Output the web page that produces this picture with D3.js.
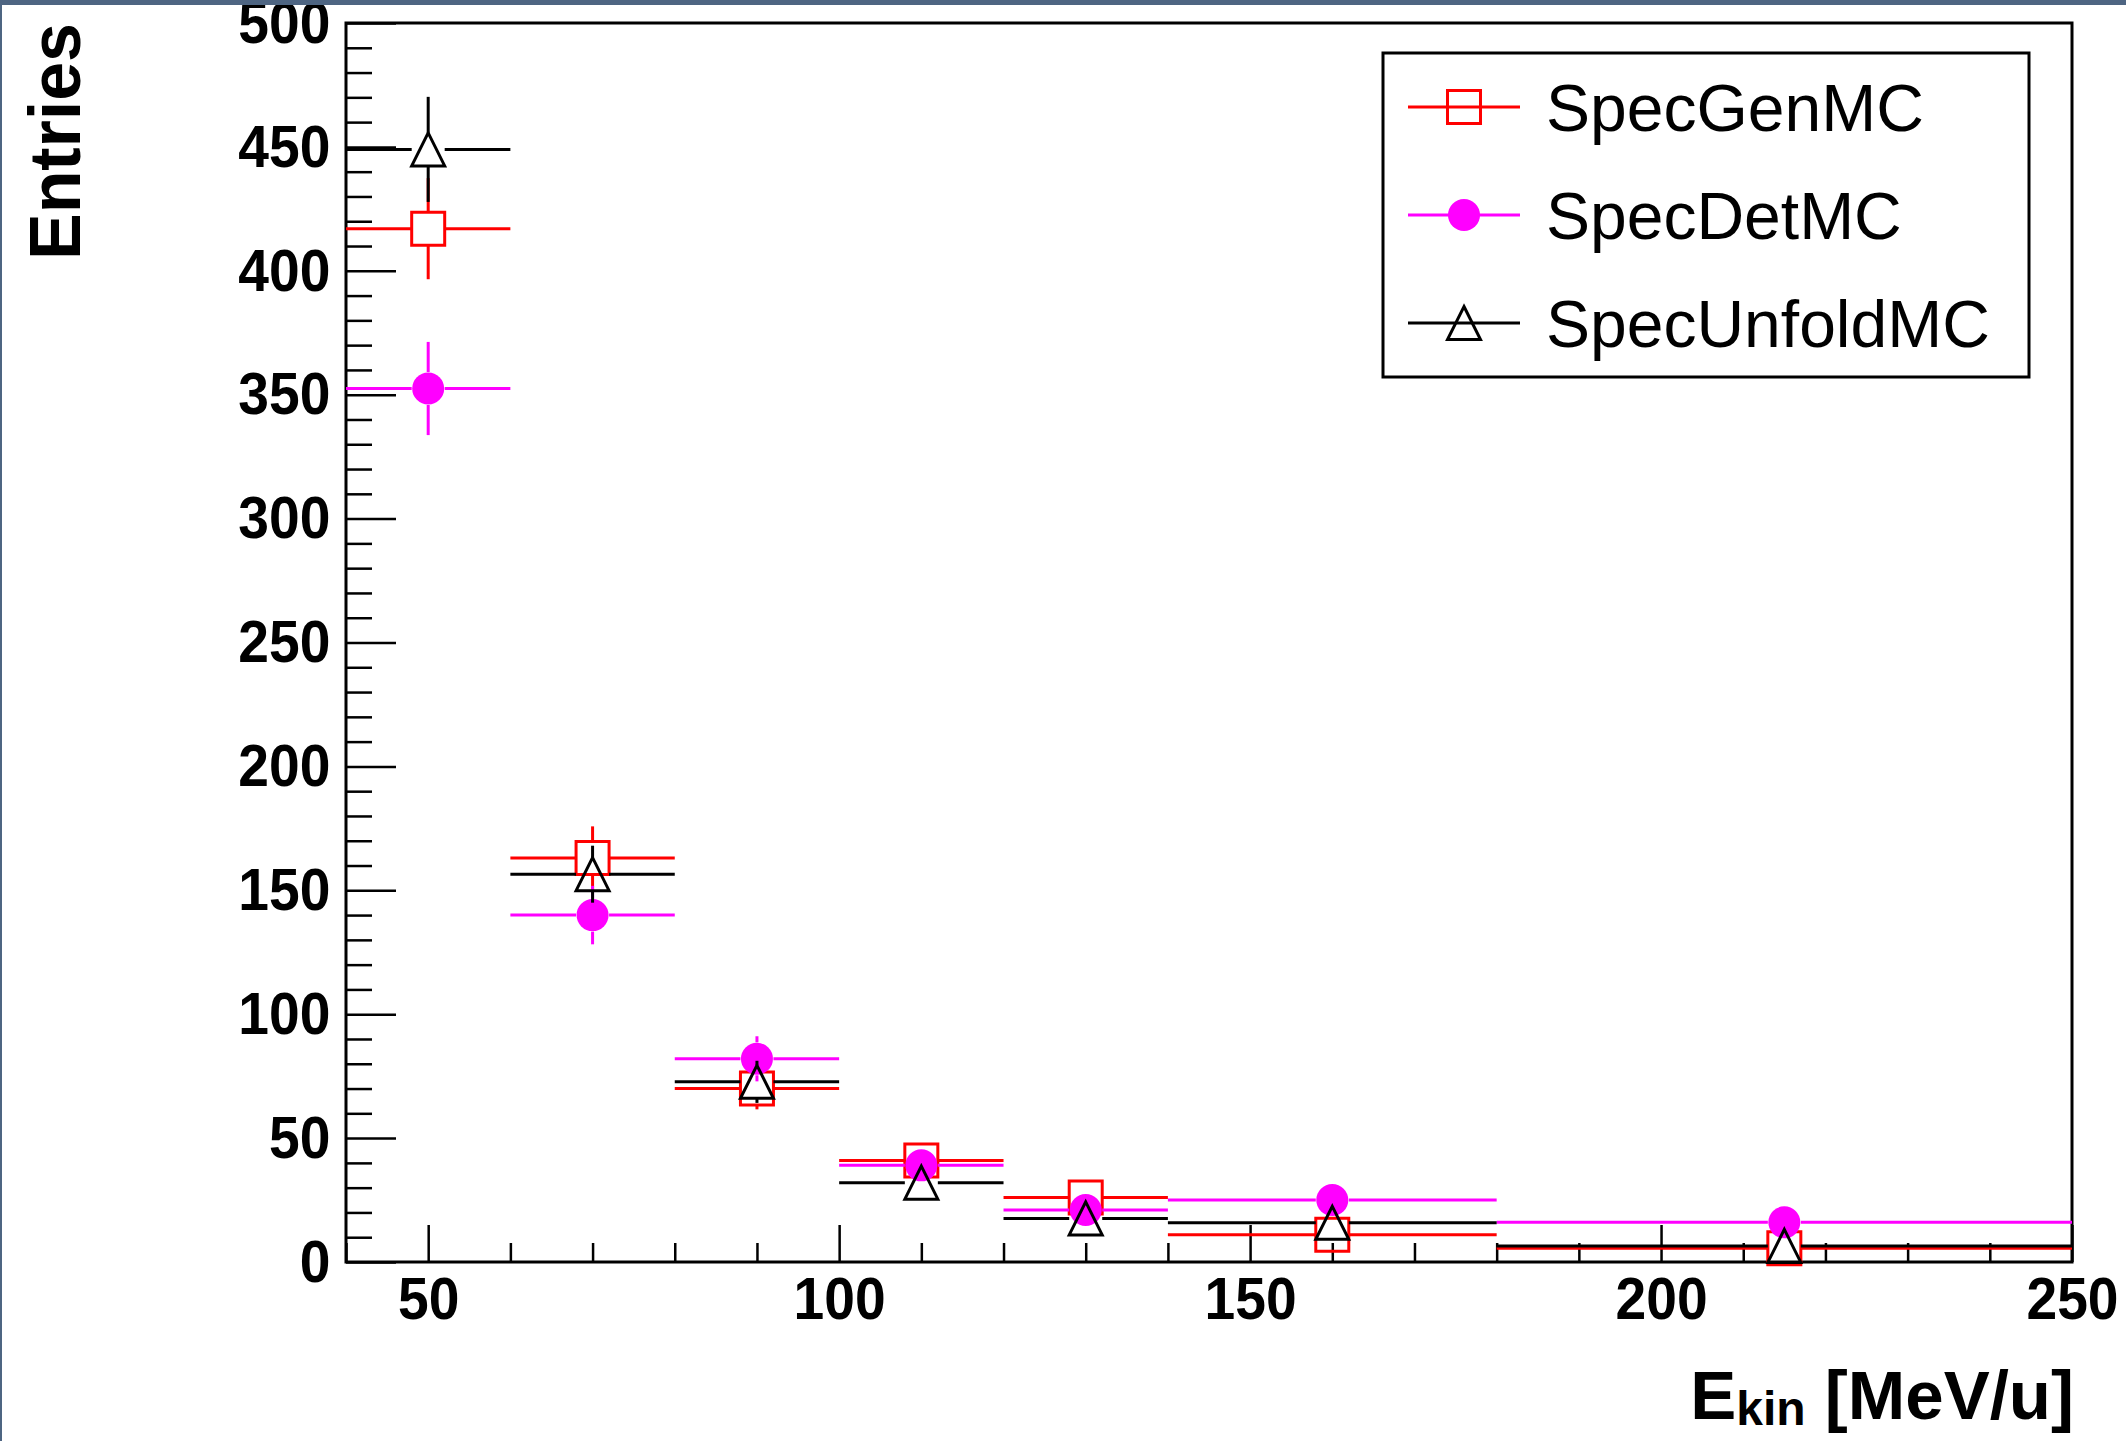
<!DOCTYPE html>
<meta charset="utf-8">
<style>
	body {
		margin: 0;
		background: #fff;
	}
	svg {
		display: block;
		font-family: "Liberation Sans", Arial, Helvetica, sans-serif;
	}
</style>
<body>
<script src="https://d3js.org/d3.v7.min.js"></script>
<script>
	// bins (MeV/u)
	var binLow = [40, 60, 80, 100, 120, 140, 180];
	var binHigh = [60, 80, 100, 120, 140, 180, 250];
	var binCenter = [50, 70, 90, 110, 130, 160, 215];

	// series values
	var genMC = [417, 163, 70, 41, 26, 11, 5.5];
	var genErr = [20.4, 12.8, 8.4, 6.4, 5.1, 3.3, 2.3];
	var detMC = [352.5, 140, 82, 39, 21, 25, 16];
	var detErr = [18.8, 11.8, 9.1, 6.2, 4.6, 5.0, 4.0];
	var unfoldMC = [449, 156.5, 72.7, 32, 17.6, 15.8, 6.5];
	var unfoldErr = [21.2, 11.5, 8.5, 5.7, 4.2, 4.0, 2.5];

	var seriesNames = ["SpecGenMC", "SpecDetMC", "SpecUnfoldMC"];

	var xTicks = [50, 100, 150, 200, 250];
	var yTicks = [0, 50, 100, 150, 200, 250, 300, 350, 400, 450, 500];

	var width = 2126,
		height = 1441;
	var frame = {left: 346, right: 2072, top: 23, bottom: 1262};

	var svg = d3.select("body").append("svg")
		.attr("width", width)
		.attr("height", height);

	var x = d3.scaleLinear().domain([40, 250]).range([frame.left, frame.right]);
	var y = d3.scaleLinear().domain([0, 500]).range([frame.bottom, frame.top]);

	var xMinor = d3.range(40, 251, 10).filter(function(d) { return d % 50 !== 0; });
	var yMinor = d3.range(0, 501, 10).filter(function(d) { return d % 50 !== 0; });

	// axes: ticks point inwards
	function styleAxis(g) {
		g.select(".domain").remove();
		g.selectAll(".tick line").attr("stroke", "#000").attr("stroke-width", 2.5);
		g.selectAll(".tick text")
			.attr("fill", "#000")
			.attr("transform", "scale(0.92,1)")
			.style("font-family", "'Liberation Sans', Arial, Helvetica, sans-serif")
			.style("font-weight", "bold")
			.style("font-size", "60px");
	}

	svg.append("g")
		.attr("transform", "translate(" + frame.left + ",0)")
		.call(d3.axisLeft(y).tickValues(yMinor).tickSize(-26).tickFormat(""))
		.call(styleAxis);
	svg.append("g")
		.attr("transform", "translate(" + frame.left + ",0)")
		.call(d3.axisLeft(y).tickValues(yTicks).tickSize(-50).tickPadding(17))
		.call(styleAxis);

	svg.append("g")
		.attr("transform", "translate(0," + frame.bottom + ")")
		.call(d3.axisBottom(x).tickValues(xMinor).tickSize(-19).tickFormat(""))
		.call(styleAxis);
	svg.append("g")
		.attr("transform", "translate(0," + frame.bottom + ")")
		.call(d3.axisBottom(x).tickValues(xTicks).tickSize(-37).tickPadding(14))
		.call(styleAxis);

	// frame
	svg.append("rect")
		.attr("x", frame.left)
		.attr("y", frame.top)
		.attr("width", frame.right - frame.left)
		.attr("height", frame.bottom - frame.top)
		.attr("fill", "none")
		.attr("stroke", "#000")
		.attr("stroke-width", 3);

	var half = 16.5;

	function markerPath(shape, cx, cy) {
		if (shape === "square") {
			return "M" + (cx - half) + "," + (cy - half) + "h" + (2 * half) + "v" + (2 * half) + "h" + (-2 * half) + "Z";
		}
		if (shape === "triangle") {
			return "M" + cx + "," + (cy - half) + "L" + (cx + half) + "," + (cy + half) + "L" + (cx - half) + "," + (cy + half) + "Z";
		}
		return null;
	}

	function drawMarker(g, shape, color, cx, cy) {
		if (shape === "circle") {
			g.append("circle")
				.attr("cx", cx).attr("cy", cy).attr("r", 16)
				.attr("fill", color);
		} else {
			g.append("path")
				.attr("d", markerPath(shape, cx, cy))
				.attr("fill", "none")
				.attr("stroke", color)
				.attr("stroke-width", 3);
		}
	}

	function seg(g, x1, y1, x2, y2, color) {
		g.append("line")
			.attr("x1", x1).attr("y1", y1)
			.attr("x2", x2).attr("y2", y2)
			.attr("stroke", color)
			.attr("stroke-width", 3);
	}

	function drawSeries(vals, errs, color, shape) {
		var g = svg.append("g");
		vals.forEach(function(v, i) {
			var cx = x(binCenter[i]),
				cy = y(v),
				top = y(v + errs[i]),
				bot = y(v - errs[i]);
			// horizontal bar with a gap at the marker
			seg(g, x(binLow[i]), cy, cx - half, cy, color);
			seg(g, cx + half, cy, x(binHigh[i]), cy, color);
			if (cy - top > half) seg(g, cx, cy - half, cx, top, color);
			if (bot - cy > half) seg(g, cx, cy + half, cx, bot, color);
			drawMarker(g, shape, color, cx, cy);
		});
	}

	drawSeries(genMC, genErr, "#ff0000", "square");
	drawSeries(detMC, detErr, "#ff00ff", "circle");
	drawSeries(unfoldMC, unfoldErr, "#000000", "triangle");

	// legend
	var legend = svg.append("g");
	legend.append("rect")
		.attr("x", 1383).attr("y", 53)
		.attr("width", 646).attr("height", 324)
		.attr("fill", "#fff")
		.attr("stroke", "#000")
		.attr("stroke-width", 3);

	var legendColors = ["#ff0000", "#ff00ff", "#000000"];
	var legendShapes = ["square", "circle", "triangle"];
	seriesNames.forEach(function(name, i) {
		var ly = 107 + i * 108;
		seg(legend, 1408, ly, 1520, ly, legendColors[i]);
		drawMarker(legend, legendShapes[i], legendColors[i], 1464, ly);
		legend.append("text")
			.attr("x", 1546)
			.attr("y", ly)
			.attr("dy", "0.36em")
			.style("font-size", "66px")
			.text(name);
	});

	// axis titles
	svg.append("text")
		.attr("transform", "translate(80,23) rotate(-90)")
		.attr("text-anchor", "end")
		.attr("textLength", 237)
		.attr("lengthAdjust", "spacingAndGlyphs")
		.style("font-weight", "bold")
		.style("font-size", "73px")
		.text("Entries");

	var xt = svg.append("text")
		.attr("x", 2074)
		.attr("y", 1419)
		.attr("text-anchor", "end")
		.style("font-weight", "bold")
		.style("font-size", "69px");
	xt.append("tspan").text("E");
	xt.append("tspan").attr("dy", 6).style("font-size", "48px").text("kin");
	xt.append("tspan").attr("dy", -6).text(" [MeV/u]");

	// window border
	svg.append("rect").attr("x", 0).attr("y", 0).attr("width", width).attr("height", 5).attr("fill", "#4e6582");
	svg.append("rect").attr("x", 0).attr("y", 0).attr("width", 2).attr("height", height).attr("fill", "#4e6582");
</script>
